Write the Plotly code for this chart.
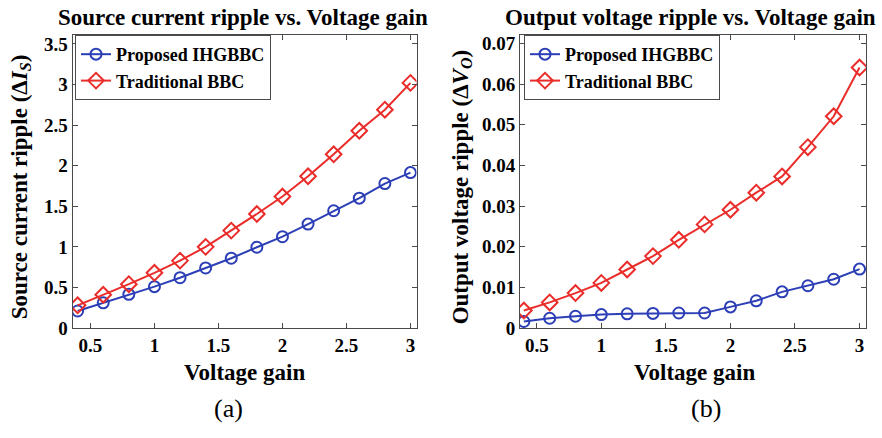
import plotly.graph_objects as go

# Voltage gain sweep shared by both panels
gain = [0.4, 0.6, 0.8, 1.0, 1.2, 1.4, 1.6, 1.8, 2.0, 2.2, 2.4, 2.6, 2.8, 3.0]

# (a) Source current ripple
current_proposed = [0.21, 0.31, 0.415, 0.51, 0.62, 0.74, 0.86, 0.995, 1.125, 1.28, 1.445, 1.60, 1.78, 1.915]
current_traditional = [0.28, 0.41, 0.54, 0.68, 0.83, 1.00, 1.20, 1.405, 1.62, 1.87, 2.14, 2.43, 2.69, 3.02]

# (b) Output voltage ripple
voltage_proposed = [0.0016, 0.0024, 0.0029, 0.0033, 0.0035, 0.0036, 0.0037, 0.0037, 0.0052, 0.0067,
                    0.0089, 0.0104, 0.0120, 0.0145]
voltage_traditional = [0.0043, 0.0063, 0.0086, 0.0111, 0.0144, 0.0177, 0.0217, 0.0255, 0.0291, 0.0333,
                       0.0373, 0.0445, 0.0521, 0.0641]

names = ["Proposed IHGBBC", "Traditional BBC"]
BLUE = "#2d3fb6"
RED = "#ea2d2a"
SERIF = "Times New Roman, Liberation Serif, serif"
AXIS_COLOR = "#4a4a4a"

fig = go.Figure()


def add_pair(xaxis, yaxis, legend, proposed, traditional):
    fig.add_trace(go.Scatter(
        x=gain, y=proposed, mode="lines+markers", name=names[0],
        line=dict(color=BLUE, width=2),
        marker=dict(symbol="circle-open", size=11, color=BLUE, line=dict(width=2)),
        xaxis=xaxis, yaxis=yaxis, legend=legend))
    fig.add_trace(go.Scatter(
        x=gain, y=traditional, mode="lines+markers", name=names[1],
        line=dict(color=RED, width=2),
        marker=dict(symbol="diamond-open", size=12, color=RED, line=dict(width=2)),
        xaxis=xaxis, yaxis=yaxis, legend=legend))


add_pair("x", "y", "legend", current_proposed, current_traditional)
add_pair("x2", "y2", "legend2", voltage_proposed, voltage_traditional)

tick_font = dict(family=SERIF, size=19, color="black", weight="bold")
axis_common = dict(
    showline=True, linecolor=AXIS_COLOR, linewidth=1, mirror="ticks",
    ticks="inside", ticklen=5, tickcolor=AXIS_COLOR, showgrid=False,
    zeroline=False, tickfont=tick_font,
)

H = 438
W = 882
y_dom = [1 - 336 / H, 1 - 34 / H]
legend_font = dict(family=SERIF, size=18, color="black", weight="bold")

fig.update_layout(
    width=W, height=H,
    margin=dict(l=0, r=0, t=0, b=0),
    paper_bgcolor="white", plot_bgcolor="white",
    font=dict(family=SERIF, color="black"),
    xaxis=dict(domain=[72.5 / W, 416.5 / W], range=[0.36, 3.047], dtick=0.5, anchor="y", **axis_common),
    yaxis=dict(domain=y_dom, range=[0, 3.61], dtick=0.5, anchor="x", **axis_common),
    xaxis2=dict(domain=[520 / W, 866 / W], range=[0.37, 3.05], dtick=0.5, anchor="y2", **axis_common),
    yaxis2=dict(domain=y_dom, range=[0, 0.0721], dtick=0.01, anchor="x2", **axis_common),
    legend=dict(x=75 / W, y=1 - 34 / H, xanchor="left", yanchor="top",
                bgcolor="white", bordercolor=AXIS_COLOR, borderwidth=1,
                font=legend_font, tracegroupgap=0, itemsizing="trace"),
    legend2=dict(x=524 / W, y=1 - 34 / H, xanchor="left", yanchor="top",
                 bgcolor="white", bordercolor=AXIS_COLOR, borderwidth=1,
                 font=legend_font, tracegroupgap=0, itemsizing="trace"),
    showlegend=True,
)

bold_title = dict(family=SERIF, size=23, color="black", weight="bold")
texts = [
    # panel titles
    dict(text="Source current ripple vs. Voltage gain", x=243, y=16, font=bold_title),
    dict(text="Output voltage ripple vs. Voltage gain", x=690, y=16, font=bold_title),
    # x-axis titles
    dict(text="Voltage gain", x=244, y=382, font=bold_title),
    dict(text="Voltage gain", x=694, y=382, font=bold_title),
    # y-axis titles
    dict(text="Source current ripple (Δ<i>I<sub>S</sub></i>)", x=21, y=191, font=bold_title, textangle=-90),
    dict(text="Output voltage ripple (Δ<i>V<sub>O</sub></i>)", x=462, y=191, font=bold_title, textangle=-90),
    # panel labels
    dict(text="(a)", x=228, y=419, font=dict(family=SERIF, size=26, color="black")),
    dict(text="(b)", x=706, y=419, font=dict(family=SERIF, size=26, color="black")),
]
for t in texts:
    fig.add_annotation(
        text=t["text"], x=t["x"] / W, y=1 - t["y"] / H, xref="paper", yref="paper",
        xanchor="center", yanchor="middle", showarrow=False, font=t["font"],
        textangle=t.get("textangle", 0),
    )

fig.write_html("out.html")
